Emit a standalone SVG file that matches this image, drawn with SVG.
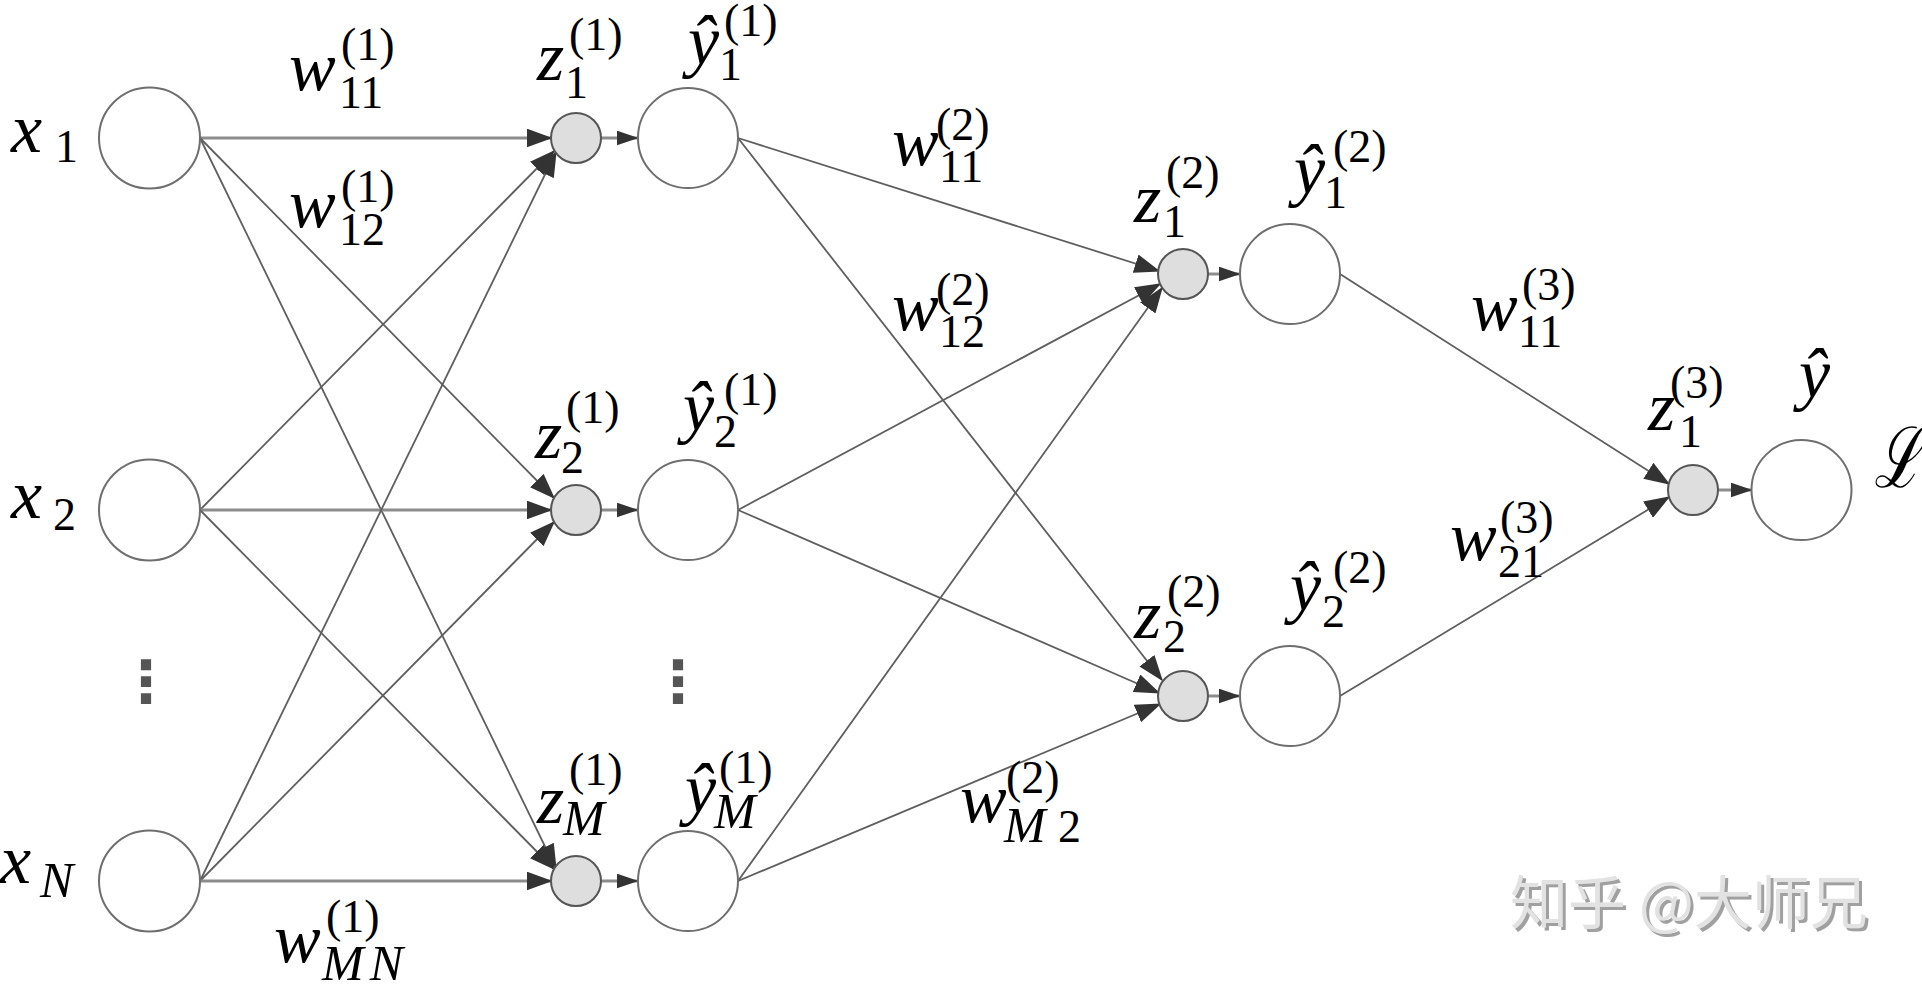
<svg xmlns="http://www.w3.org/2000/svg" width="1922" height="986" viewBox="0 0 1922 986">
<style>
.bg{fill:#fff}
.n{fill:#fff;stroke:#6e6e6e;stroke-width:2}
.z{fill:#dedede;stroke:#555;stroke-width:2}
.e{stroke:#5e5e5e;stroke-width:1.8;fill:none;marker-end:url(#ah)}
.h{stroke:#8c8c8c;stroke-width:3;fill:none;marker-end:url(#ah)}
.sa{stroke:#8c8c8c;stroke-width:3;fill:none;marker-end:url(#ahs)}
text{fill:#000}
.v{font-family:"Liberation Serif",serif;font-style:italic;font-size:70px}
.d{font-family:"Liberation Serif",serif;font-style:normal;font-size:46px}
.di{font-family:"Liberation Serif",serif;font-style:italic;font-size:50px}
.dots{font-family:"DejaVu Sans",sans-serif;font-weight:bold;font-size:58px;fill:#555}
.wm{font-family:"Noto Sans CJK SC","Noto Sans",sans-serif;font-size:58px;fill:#e2e2e2;filter:url(#sh)}
</style>
<defs>
<marker id="ah" viewBox="0 0 26 19" refX="24.5" refY="9.5" markerWidth="26" markerHeight="19" markerUnits="userSpaceOnUse" orient="auto"><path d="M0,0 L26,9.5 L0,19 z" fill="#333"/></marker>
<marker id="ahs" viewBox="0 0 22 15" refX="21.5" refY="7.5" markerWidth="22" markerHeight="15" markerUnits="userSpaceOnUse" orient="auto"><path d="M0,0 L22,7.5 L0,15 z" fill="#333"/></marker>
<filter id="sh" x="-5%" y="-20%" width="110%" height="140%"><feDropShadow dx="3" dy="3" stdDeviation="0.6" flood-color="#a0a0a0" flood-opacity="1"/></filter>
</defs>
<rect class="bg" x="0" y="0" width="1922" height="986"/>

<g id="connectors">
<line class="h" x1="200" y1="138" x2="551" y2="138"/>
<line class="e" x1="200" y1="138" x2="554" y2="498"/>
<line class="e" x1="200" y1="138" x2="556" y2="869"/>
<line class="e" x1="200" y1="510" x2="554" y2="151"/>
<line class="h" x1="200" y1="510" x2="551" y2="510"/>
<line class="e" x1="200" y1="510" x2="554" y2="869"/>
<line class="e" x1="200" y1="881" x2="556" y2="152"/>
<line class="e" x1="200" y1="881" x2="554" y2="522"/>
<line class="h" x1="200" y1="881" x2="551" y2="881"/>
<line class="sa" x1="600" y1="138" x2="638" y2="138"/>
<line class="sa" x1="600" y1="510" x2="638" y2="510"/>
<line class="sa" x1="600" y1="881" x2="638" y2="881"/>
<line class="e" x1="738" y1="138" x2="1159" y2="271"/>
<line class="e" x1="738" y1="138" x2="1162" y2="680"/>
<line class="e" x1="738" y1="510" x2="1160" y2="284"/>
<line class="e" x1="738" y1="510" x2="1159" y2="693"/>
<line class="e" x1="738" y1="881" x2="1162" y2="288"/>
<line class="e" x1="738" y1="881" x2="1160" y2="704"/>
<line class="sa" x1="1208" y1="274" x2="1240" y2="274"/>
<line class="sa" x1="1208" y1="696" x2="1240" y2="696"/>
<line class="e" x1="1340" y1="274" x2="1669" y2="484"/>
<line class="e" x1="1340" y1="696" x2="1669" y2="497"/>
<line class="sa" x1="1718" y1="490" x2="1752" y2="490"/>
</g>

<g id="edge-labels">
<text><tspan class="v" x="289" y="90">w</tspan><tspan class="d" x="339" y="108">11</tspan><tspan class="d" x="341" y="60">(1)</tspan></text>
<text><tspan class="v" x="289" y="227">w</tspan><tspan class="d" x="339" y="245">12</tspan><tspan class="d" x="341" y="202">(1)</tspan></text>
<text><tspan class="v" x="274" y="962">w</tspan><tspan class="di" x="322" y="980" style="letter-spacing:6px">MN</tspan><tspan class="d" x="326" y="932">(1)</tspan></text>
<text><tspan class="v" x="892" y="165">w</tspan><tspan class="d" x="939" y="182">11</tspan><tspan class="d" x="936" y="140">(2)</tspan></text>
<text><tspan class="v" x="892" y="330">w</tspan><tspan class="d" x="939" y="347">12</tspan><tspan class="d" x="936" y="305">(2)</tspan></text>
<text><tspan class="v" x="960" y="822">w</tspan><tspan class="di" x="1004" y="842">M</tspan><tspan class="d" x="1058" y="842">2</tspan><tspan class="d" x="1006" y="793">(2)</tspan></text>
<text><tspan class="v" x="1471" y="330">w</tspan><tspan class="d" x="1518" y="347">11</tspan><tspan class="d" x="1522" y="300">(3)</tspan></text>
<text><tspan class="v" x="1450" y="560">w</tspan><tspan class="d" x="1498" y="577">21</tspan><tspan class="d" x="1500" y="533">(3)</tspan></text>
</g>

<g id="x1"><circle class="n" cx="149.5" cy="138" r="50.5"/><text><tspan class="v" x="11" y="152">x</tspan><tspan class="d" x="55" y="162">1</tspan></text></g>
<g id="x2"><circle class="n" cx="149.5" cy="510" r="50.5"/><text><tspan class="v" x="11" y="518">x</tspan><tspan class="d" x="53" y="530">2</tspan></text></g>
<g id="xdots"><text class="dots" x="146" y="702" text-anchor="middle">⋮</text></g>
<g id="xN"><circle class="n" cx="149.5" cy="881" r="50.5"/><text><tspan class="v" x="0" y="883">x</tspan><tspan class="di" x="40" y="897">N</tspan></text></g>

<g id="z1_1"><circle class="z" cx="576" cy="138" r="25"/><text><tspan class="v" x="537" y="80">z</tspan><tspan class="d" x="565" y="98">1</tspan><tspan class="d" x="569" y="50">(1)</tspan></text></g>
<g id="z2_1"><circle class="z" cx="576" cy="510" r="25"/><text><tspan class="v" x="535" y="458">z</tspan><tspan class="d" x="561" y="473">2</tspan><tspan class="d" x="566" y="423">(1)</tspan></text></g>
<g id="zM_1"><circle class="z" cx="576" cy="881" r="25"/><text><tspan class="v" x="537" y="823">z</tspan><tspan class="di" x="563" y="835">M</tspan><tspan class="d" x="569" y="785">(1)</tspan></text></g>

<g id="y1_1"><circle class="n" cx="688" cy="138" r="50"/><text><tspan class="v" x="688" y="64">ŷ</tspan><tspan class="d" x="719" y="80">1</tspan><tspan class="d" x="724" y="36">(1)</tspan></text></g>
<g id="y2_1"><circle class="n" cx="688" cy="510" r="50"/><text><tspan class="v" x="683" y="430">ŷ</tspan><tspan class="d" x="714" y="447">2</tspan><tspan class="d" x="724" y="405">(1)</tspan></text></g>
<g id="ydots"><text class="dots" x="678" y="702" text-anchor="middle">⋮</text></g>
<g id="yM_1"><circle class="n" cx="688" cy="881" r="50"/><text><tspan class="v" x="685" y="812">ŷ</tspan><tspan class="di" x="714" y="828">M</tspan><tspan class="d" x="719" y="783">(1)</tspan></text></g>

<g id="z1_2"><circle class="z" cx="1183" cy="274" r="25"/><text><tspan class="v" x="1134" y="222">z</tspan><tspan class="d" x="1163" y="237">1</tspan><tspan class="d" x="1166" y="188">(2)</tspan></text></g>
<g id="z2_2"><circle class="z" cx="1183" cy="696" r="25"/><text><tspan class="v" x="1134" y="638">z</tspan><tspan class="d" x="1163" y="652">2</tspan><tspan class="d" x="1167" y="607">(2)</tspan></text></g>

<g id="y1_2"><circle class="n" cx="1290" cy="274" r="50"/><text><tspan class="v" x="1294" y="193">ŷ</tspan><tspan class="d" x="1324" y="208">1</tspan><tspan class="d" x="1333" y="162">(2)</tspan></text></g>
<g id="y2_2"><circle class="n" cx="1290" cy="696" r="50"/><text><tspan class="v" x="1290" y="610">ŷ</tspan><tspan class="d" x="1322" y="627">2</tspan><tspan class="d" x="1333" y="583">(2)</tspan></text></g>

<g id="z1_3"><circle class="z" cx="1693" cy="490" r="25"/><text><tspan class="v" x="1648" y="430">z</tspan><tspan class="d" x="1679" y="447">1</tspan><tspan class="d" x="1670" y="398">(3)</tspan></text></g>
<g id="yhat"><circle class="n" cx="1801.5" cy="490" r="50"/><text class="v" x="1799" y="397">ŷ</text></g>
<g id="loss"><text transform="translate(1874,487) scale(1,1.45)" x="0" y="0" style="font-family:'DejaVu Serif','Liberation Serif',serif;font-style:italic;font-size:58px">ℒ</text></g>

<g id="watermark"><text class="wm" x="1510" y="924">知乎 @大师兄</text></g>
</svg>
